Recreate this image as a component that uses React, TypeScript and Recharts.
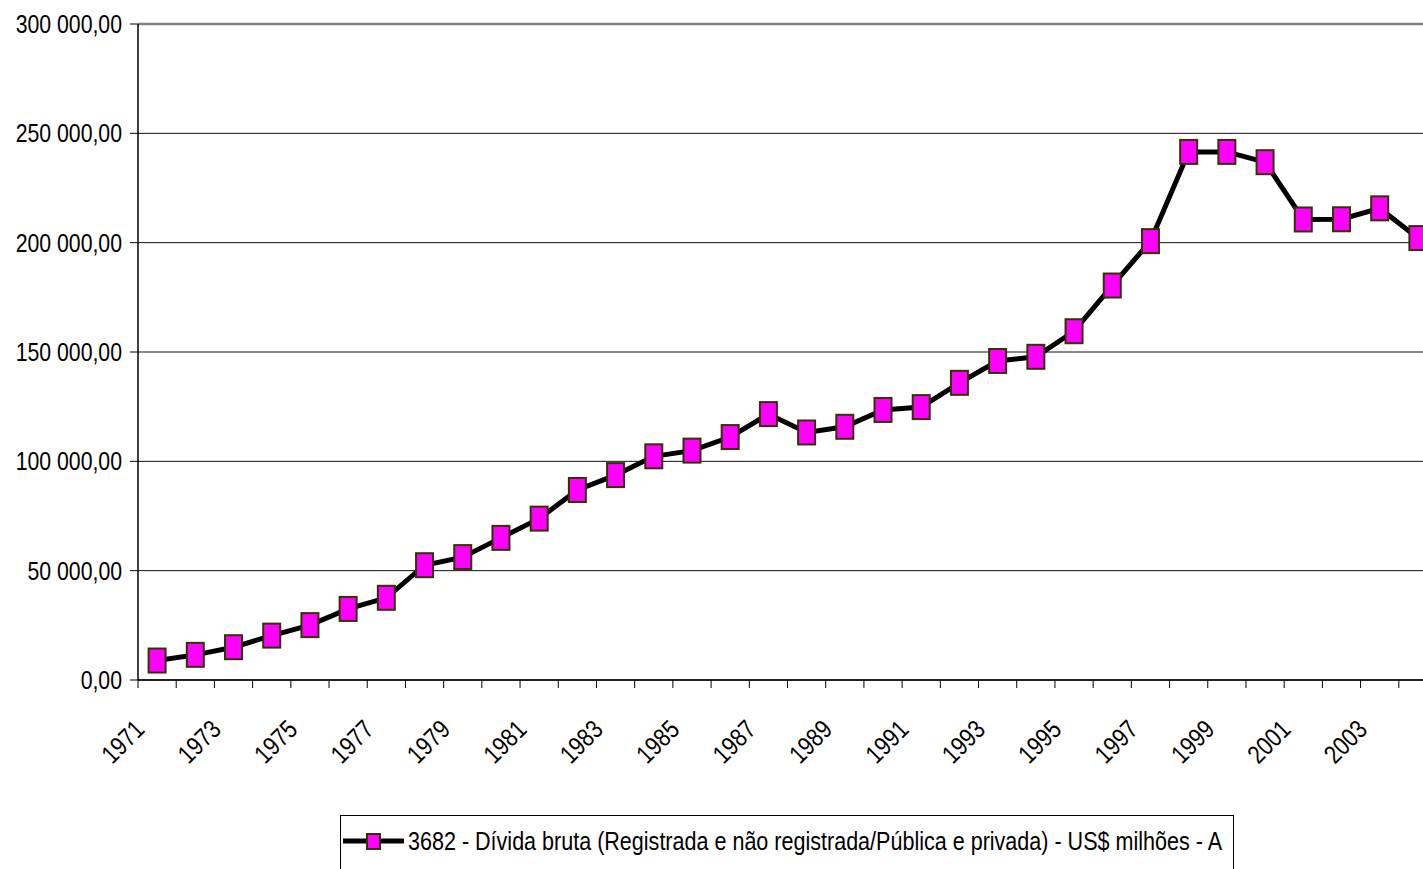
import { LineChart, Line, XAxis, YAxis, CartesianGrid, ReferenceLine } from 'recharts';

const years = [
  '1971', '1972', '1973', '1974', '1975', '1976', '1977', '1978', '1979', '1980',
  '1981', '1982', '1983', '1984', '1985', '1986', '1987', '1988', '1989', '1990',
  '1991', '1992', '1993', '1994', '1995', '1996', '1997', '1998', '1999', '2000',
  '2001', '2002', '2003', '2004',
];

// US$ milhões
const debt = [
  8900, 11500, 15000, 20300, 25100, 32500, 37600, 52500, 56200, 65000,
  73800, 86900, 93700, 102300, 104900, 111100, 121600, 113200, 115800, 123500,
  124800, 135900, 145900, 147800, 159500, 180400, 200700, 241500, 241500, 236800,
  210600, 210700, 215700, 202100,
];

const yTicks = [0, 50000, 100000, 150000, 200000, 250000, 300000];

const seriesName = '3682 - Dívida bruta (Registrada e não registrada/Pública e privada) - US$ milhões - A';

const data = years.map((year, i) => ({ year, value: debt[i] }));

// no narrow font installed, so squeeze Liberation Sans horizontally
const font = '"Liberation Sans", Arial, sans-serif';
const squeeze = 0.85;
const band = 38.2;

const fmt = (v: number) => {
  const s = Math.round(v).toString().replace(/\B(?=(\d{3})+(?!\d))/g, ' ');
  return `${s},00`;
};

const YTick = (props: any) => {
  const { x, y, payload } = props;
  return (
    <text
      transform={`translate(${x} ${y}) scale(${squeeze} 1)`}
      textAnchor="end"
      dy={9}
      fontFamily={font}
      fontSize={25}
      fill="#000"
    >
      {fmt(payload.value)}
    </text>
  );
};

const XTick = (props: any) => {
  const { x, y, payload, index } = props;
  const bx = x - band / 2;
  const tx = x - 11;
  const ty = y + 43;
  return (
    <g>
      <line x1={bx} x2={bx} y1={y - 8} y2={y} stroke="#000" strokeWidth={1} />
      {index % 2 === 0 && (
        <text
          transform={`translate(${tx} ${ty}) rotate(-45) scale(0.83 1)`}
          textAnchor="end"
          fontFamily={font}
          fontSize={26}
          fill="#000"
        >
          {payload.value}
        </text>
      )}
    </g>
  );
};

const Marker = (props: any) => {
  const { cx, cy } = props;
  if (cx == null || cy == null) return null;
  return <rect x={cx - 8.5} y={cy - 12} width={17} height={24} fill="#FF00FF" stroke="#333300" strokeWidth={2} />;
};

export default function App() {
  return (
    <div style={{ position: 'fixed', left: 0, top: 0, width: 1423, height: 869, overflow: 'hidden', background: '#fff' }}>
      <LineChart width={1460} height={869} data={data} margin={{ top: 24, right: 23, left: 0, bottom: 54 }}>
        <CartesianGrid vertical={false} stroke="#111" strokeWidth={1} />
        <ReferenceLine y={300000} stroke="#808080" strokeWidth={2.5} />
        <XAxis
          dataKey="year"
          scale="band"
          interval={0}
          height={135}
          tickLine={false}
          tickSize={8}
          tickMargin={0}
          axisLine={{ stroke: '#000', strokeWidth: 1.5 }}
          tick={<XTick />}
        />
        <YAxis
          width={138}
          domain={[0, 300000]}
          ticks={yTicks}
          tickSize={8}
          tickMargin={8}
          axisLine={{ stroke: '#000', strokeWidth: 1.5 }}
          tickLine={{ stroke: '#000' }}
          tick={<YTick />}
          interval={0}
        />
        <Line
          type="linear"
          dataKey="value"
          name={seriesName}
          stroke="#000"
          strokeWidth={5}
          dot={<Marker />}
          activeDot={false}
          isAnimationActive={false}
        />
      </LineChart>
      <svg style={{ position: 'absolute', left: 340, top: 815 }} width={895} height={54}>
        <rect x={0.5} y={0.5} width={893} height={70} fill="#fff" stroke="#000" strokeWidth={1} />
        <line x1={3} x2={64} y1={26} y2={26} stroke="#000" strokeWidth={5} />
        <rect x={27} y={19} width={13} height={15} fill="#FF00FF" stroke="#333300" strokeWidth={2} />
        <text
          x={68}
          y={35}
          textLength={814}
          lengthAdjust="spacingAndGlyphs"
          fontFamily={font}
          fontSize={26}
          fill="#000"
        >
          {seriesName}
        </text>
      </svg>
    </div>
  );
}
